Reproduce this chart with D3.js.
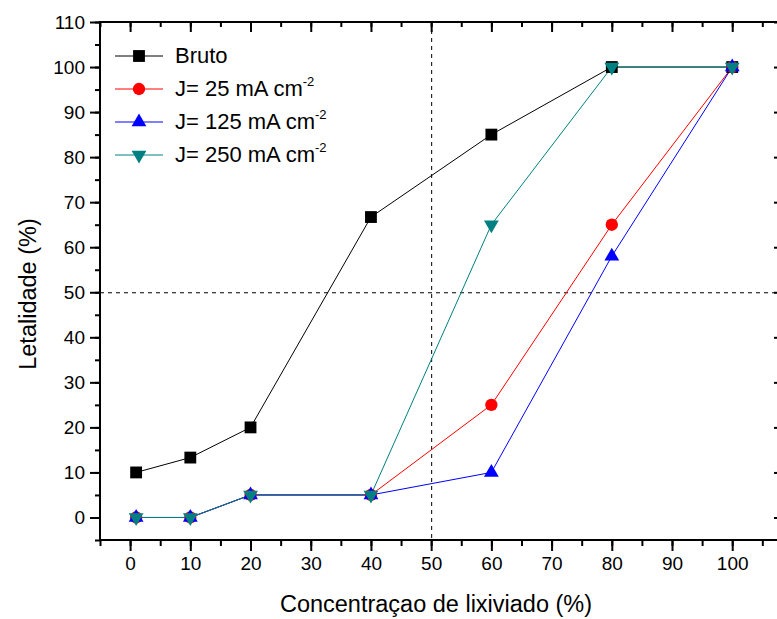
<!DOCTYPE html>
<html>
<head>
<meta charset="utf-8">
<script src="https://cdn.jsdelivr.net/npm/d3@7"></script>
<style>
  body { margin: 0; background: #fff; }
  svg { font-family: "Liberation Sans", Arial, sans-serif; }
</style>
</head>
<body>
<svg></svg>
<script>
var width = 777, height = 619;

// data
var conc = [1, 10, 20, 40, 60, 80, 100];
var bruto = [10, 13.3, 20, 66.7, 85, 100, 100];
var j25 = [0, 0, 5, 5, 25, 65, 100];
var j125 = [0, 0, 5, 5, 10, 58, 100];
var j250 = [0, 0, 5, 5, 65, 100, 100];
var xTicks = [0, 10, 20, 30, 40, 50, 60, 70, 80, 90, 100];
var yTicks = [0, 10, 20, 30, 40, 50, 60, 70, 80, 90, 100, 110];

var series = [
  { name: "Bruto", values: bruto, color: "#000000", symbol: d3.symbolSquare, size: 140, rot: 0 },
  { name: "J= 25 mA cm", values: j25, color: "#ff0000", symbol: d3.symbolCircle, size: 120, rot: 0 },
  { name: "J= 125 mA cm", values: j125, color: "#0000ff", symbol: d3.symbolTriangle, size: 95, rot: 0 },
  { name: "J= 250 mA cm", values: j250, color: "#008080", symbol: d3.symbolTriangle, size: 95, rot: 180 }
];

var pL = 100, pT = 22, pR = 784, pB = 540;

var svg = d3.select("svg")
    .attr("width", width)
    .attr("height", height);

var x = d3.scaleLinear().domain([-5, 108.6]).range([pL, pR]);
var y = d3.scaleLinear().domain([-5, 110]).range([pB, pT]);

// reference lines at 50%
svg.append("line")
    .attr("x1", x(50) + 0.5).attr("x2", x(50) + 0.5)
    .attr("y1", pT).attr("y2", pB)
    .style("stroke", "#000").style("stroke-width", 1).style("stroke-dasharray", "4,4");
svg.append("line")
    .attr("x1", pL).attr("x2", pR)
    .attr("y1", y(50) + 0.5).attr("y2", y(50) + 0.5)
    .style("stroke", "#000").style("stroke-width", 1).style("stroke-dasharray", "4,4");

// axes
var minorX = d3.range(-5, 109, 5);
var minorY = d3.range(-5, 111, 5);

function styleAxis(g) {
  g.select(".domain").remove();
  g.selectAll("line").style("stroke", "#000").style("stroke-width", 2);
  g.selectAll("text").style("font-size", "19px").style("fill", "#000");
}

svg.append("g")
    .attr("transform", "translate(0," + pB + ")")
    .call(d3.axisBottom(x).tickValues(minorX).tickSize(6).tickFormat(""))
    .call(styleAxis);
svg.append("g")
    .attr("transform", "translate(0," + pB + ")")
    .call(d3.axisBottom(x).tickValues(xTicks).tickSize(11).tickPadding(6).tickFormat(d3.format("d")))
    .call(styleAxis);

svg.append("g")
    .attr("transform", "translate(0," + pT + ")")
    .call(d3.axisBottom(x).tickValues(minorX).tickSize(5).tickFormat(""))
    .call(styleAxis);
svg.append("g")
    .attr("transform", "translate(0," + pT + ")")
    .call(d3.axisBottom(x).tickValues(xTicks).tickSize(10).tickFormat(""))
    .call(styleAxis);

svg.append("g")
    .attr("transform", "translate(" + pL + ",0)")
    .call(d3.axisLeft(y).tickValues(minorY).tickSize(5).tickFormat(""))
    .call(styleAxis);
svg.append("g")
    .attr("transform", "translate(" + pL + ",0)")
    .call(d3.axisLeft(y).tickValues(yTicks).tickSize(10).tickPadding(5).tickFormat(d3.format("d")))
    .call(styleAxis);

svg.append("g")
    .attr("transform", "translate(" + pR + ",0)")
    .call(d3.axisLeft(y).tickValues(minorY).tickSize(5).tickFormat(""))
    .call(styleAxis);
svg.append("g")
    .attr("transform", "translate(" + pR + ",0)")
    .call(d3.axisLeft(y).tickValues(yTicks).tickSize(10).tickFormat(""))
    .call(styleAxis);

// frame
svg.append("rect")
    .attr("x", pL).attr("y", pT)
    .attr("width", pR - pL).attr("height", pB - pT)
    .style("fill", "none").style("stroke", "#000").style("stroke-width", 2);

// series
var line = d3.line()
    .x(function(d, i) { return x(conc[i]); })
    .y(function(d) { return y(d); });

series.forEach(function(s) {
  svg.append("path")
      .datum(s.values)
      .attr("d", line)
      .style("fill", "none")
      .style("stroke", s.color)
      .style("stroke-width", 1);
});

series.forEach(function(s) {
  svg.append("g").selectAll("path")
      .data(s.values)
      .enter().append("path")
      .attr("d", d3.symbol().type(s.symbol).size(s.size))
      .attr("transform", function(d, i) {
        return "translate(" + x(conc[i]) + "," + y(d) + ") rotate(" + s.rot + ")";
      })
      .style("fill", s.color);
});

// legend
var legend = svg.append("g").attr("transform", "translate(115,56)");
series.forEach(function(s, i) {
  var row = legend.append("g").attr("transform", "translate(0," + (i * 33) + ")");
  row.append("line")
      .attr("x1", 0).attr("x2", 48).attr("y1", 0).attr("y2", 0)
      .style("stroke", s.color).style("stroke-width", 1);
  row.append("path")
      .attr("d", d3.symbol().type(s.symbol).size(s.size))
      .attr("transform", "translate(24,0) rotate(" + s.rot + ")")
      .style("fill", s.color);
  var t = row.append("text")
      .attr("x", 60).attr("y", 7)
      .style("font-size", "22px");
  t.append("tspan").text(s.name);
  if (i > 0) {
    t.append("tspan").attr("dy", -10).style("font-size", "13px").text("-2");
  }
});

// axis titles
svg.append("text")
    .attr("x", 436).attr("y", 612)
    .attr("text-anchor", "middle")
    .style("font-size", "23.5px")
    .text("Concentraçao de lixiviado (%)");

svg.append("text")
    .attr("transform", "translate(36,294) rotate(-90)")
    .attr("text-anchor", "middle")
    .style("font-size", "23.5px")
    .text("Letalidade (%)");
</script>
</body>
</html>
